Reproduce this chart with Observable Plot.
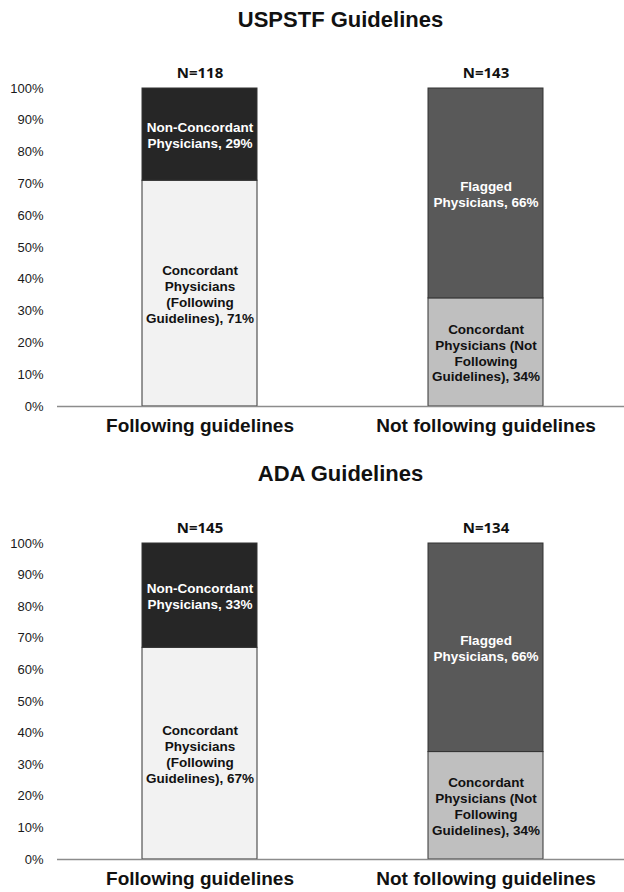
<!DOCTYPE html>
<html>
<head>
<meta charset="utf-8">
<script src="https://cdn.jsdelivr.net/npm/d3@7"></script>
<script src="https://cdn.jsdelivr.net/npm/@observablehq/plot@0.6"></script>
<style>
  html, body { margin: 0; padding: 0; background: #fff; }
  body { width: 624px; font-family: "Liberation Sans", Arial, sans-serif; }
  .title { font-weight: bold; font-size: 22px; color: #111; text-align: center; padding-left: 57px; box-sizing: border-box; width: 624px; }
  svg { display: block; }
</style>
</head>
<body>
<div id="root"></div>
<script>
// ---- data ----
const groups = ["Following guidelines", "Not following guidelines"];
const segmentNames = ["Concordant (following)", "Non-Concordant", "Concordant (not following)", "Flagged"];
const segmentColors = ["#f2f2f2", "#262626", "#bfbfbf", "#595959"];
const bottomSegments = ["Concordant (following)", "Concordant (not following)"];
const topSegments = ["Non-Concordant", "Flagged"];
const bottomLabelText = ["Concordant\nPhysicians\n(Following\nGuidelines)", "Concordant\nPhysicians (Not\nFollowing\nGuidelines)"];
const topLabelText = ["Non-Concordant\nPhysicians", "Flagged\nPhysicians"];

const uspstfBottom = [71, 34];
const uspstfTop = [29, 66];
const uspstfN = [118, 143];

const adaBottom = [67, 34];
const adaTop = [33, 66];
const adaN = [145, 134];

const yTicks = [0, 10, 20, 30, 40, 50, 60, 70, 80, 90, 100];

function buildRows(bottom, top) {
  const rows = [];
  groups.forEach((g, i) => {
    rows.push({group: g, segment: bottomSegments[i], value: bottom[i], label: bottomLabelText[i] + ", " + bottom[i] + "%", dark: false});
    rows.push({group: g, segment: topSegments[i], value: top[i], label: topLabelText[i] + ", " + top[i] + "%", dark: true});
  });
  return rows;
}

function panel(title, bottom, top, ns, titleHeight, marginTop, plotH, marginBottom) {
  const t = document.createElement("div");
  t.className = "title";
  t.style.height = titleHeight + "px";
  t.style.lineHeight = titleHeight + "px";
  t.textContent = title;
  document.getElementById("root").appendChild(t);

  const rows = buildRows(bottom, top);
  const nRows = groups.map((g, i) => ({group: g, n: ns[i]}));

  const chart = Plot.plot({
    width: 624,
    height: marginTop + plotH + marginBottom,
    marginLeft: 57,
    marginRight: 0,
    marginTop,
    marginBottom,
    style: {fontFamily: "'Liberation Sans', Arial, sans-serif", background: "white", color: "#111"},
    x: {domain: groups, paddingInner: 0.598, paddingOuter: 0.29, align: 0.512, label: null, axis: null},
    y: {domain: [0, 100], label: null, axis: null},
    color: {domain: segmentNames, range: segmentColors},
    marks: [
      Plot.axisY({ticks: yTicks, tickSize: 0, tickPadding: 14, tickFormat: d => d + "%", fontSize: 13, fill: "#1a1a1a", label: null}),
      Plot.barY(rows, {x: "group", y: "value", fill: "segment", stroke: "#333", strokeWidth: 1}),
      Plot.text(rows, Plot.stackY({x: "group", y: "value", text: d => d.dark ? d.label : null, fill: "white", fontWeight: "bold", fontSize: 13.5, lineHeight: 1.18})),
      Plot.text(rows, Plot.stackY({x: "group", y: "value", text: d => d.dark ? null : d.label, fill: "#111", fontWeight: "bold", fontSize: 13.5, lineHeight: 1.18})),
      Plot.ruleY([0], {stroke: "#8c8c8c", strokeWidth: 1.5}),
      Plot.text(nRows, {x: "group", y: 100, text: d => "N=" + d.n, dy: -15, fontSize: 15, fontWeight: "bold", fontFamily: "'Open Sans', 'Noto Sans', sans-serif", fill: "#111"}),
      Plot.axisX({tickSize: 0, tickPadding: 12, fontSize: 19, fontWeight: "bold", fill: "#111", label: null})
    ]
  });
  document.getElementById("root").appendChild(chart);
}

panel("USPSTF Guidelines", uspstfBottom, uspstfTop, uspstfN, 40, 48, 318, 40);
panel("ADA Guidelines", adaBottom, adaTop, adaN, 56, 41, 316, 33);
</script>
</body>
</html>
